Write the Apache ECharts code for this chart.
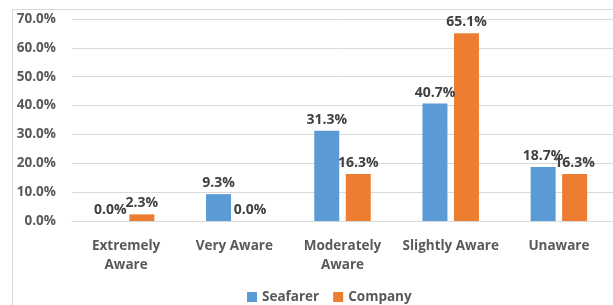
<!DOCTYPE html>
<html>
<head>
<meta charset="utf-8">
<script src="https://cdn.jsdelivr.net/npm/echarts@6/dist/echarts.min.js"></script>
<style>
  html, body { margin: 0; padding: 0; background: #fff; }
  #main { width: 613px; height: 305px; }
</style>
</head>
<body>
<div id="main"></div>
<script>
const categories = ['Extremely\nAware', 'Very Aware', 'Moderately\nAware', 'Slightly Aware', 'Unaware']
const seafarer = [0.0, 9.3, 31.3, 40.7, 18.7]
const company = [2.3, 0.0, 16.3, 65.1, 16.3]
const yTicks = [0, 10, 20, 30, 40, 50, 60, 70]

const font = '"Open Sans", Lato, sans-serif'
const pct = v => v.toFixed(1) + '%'

const barLabel = {
  show: true,
  position: 'top',
  distance: 4,
  color: '#404040',
  fontWeight: 'bold',
  fontSize: 14,
  fontFamily: font,
  formatter: p => pct(p.value)
}

const chart = echarts.init(document.getElementById('main'))
chart.setOption({
  animation: false,
  graphic: [{
    type: 'rect',
    shape: { x: 12.5, y: 9.5, width: 700, height: 400 },
    style: { fill: 'none', stroke: '#d9d9d9', lineWidth: 1 },
    silent: true
  }],
  grid: { left: 72, top: 19, width: 550, height: 202 },
  legend: {
    left: 242,
    top: 285,
    itemWidth: 10,
    itemHeight: 10,
    itemGap: 14,
    icon: 'rect',
    textStyle: { color: '#595959', fontWeight: 'bold', fontSize: 13.5, fontFamily: font },
    data: ['Seafarer', 'Company']
  },
  xAxis: {
    type: 'category',
    data: categories,
    axisLine: { lineStyle: { color: '#d9d9d9' } },
    axisTick: { show: false },
    axisLabel: {
      interval: 0,
      margin: 16,
      color: '#595959',
      fontWeight: 'bold',
      fontSize: 13.5,
      lineHeight: 19,
      fontFamily: font
    }
  },
  yAxis: {
    type: 'value',
    min: yTicks[0],
    max: yTicks[yTicks.length - 1],
    interval: 10,
    axisLine: { show: false },
    axisTick: { show: false },
    splitLine: { lineStyle: { color: '#d9d9d9' } },
    axisLabel: {
      margin: 16,
      color: '#595959',
      fontWeight: 'bold',
      fontSize: 13.5,
      fontFamily: font,
      formatter: v => pct(v)
    }
  },
  series: [
    {
      name: 'Seafarer',
      type: 'bar',
      data: seafarer,
      barWidth: 25,
      barGap: '26%',
      itemStyle: { color: '#5b9bd5' },
      label: barLabel
    },
    {
      name: 'Company',
      type: 'bar',
      data: company,
      barWidth: 25,
      itemStyle: { color: '#ed7d31' },
      label: barLabel
    }
  ]
})
</script>
</body>
</html>
